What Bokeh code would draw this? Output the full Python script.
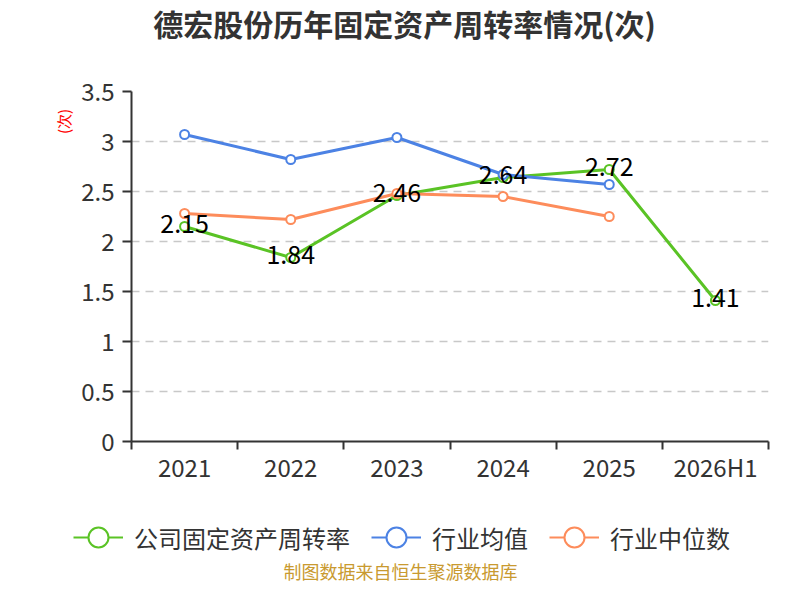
from bokeh.plotting import figure
from bokeh.layouts import column
from bokeh.models import (Range1d, FixedTicker, NumeralTickFormatter, Legend,
                          LegendItem, Label, ColumnDataSource)
from bokeh.core.properties import value
from bokeh.embed import file_html
from bokeh.resources import INLINE

years = ["2021", "2022", "2023", "2024", "2025", "2026H1"]
company = [2.15, 1.84, 2.46, 2.64, 2.72, 1.41]
industry_avg = [3.07, 2.82, 3.04, 2.67, 2.57]
industry_median = [2.28, 2.22, 2.48, 2.45, 2.25]
y_ticks = [0, 0.5, 1, 1.5, 2, 2.5, 3, 3.5]

FONT = "Noto Sans CJK SC"
green = "#5ac325"
blue = "#4c82e4"
orange = "#fd8c5b"

xs = [i + 0.5 for i in range(len(years))]


def blank_fig(h):
    f = figure(width=784, height=h, output_backend="svg", toolbar_location=None,
               x_range=Range1d(0, 1), y_range=Range1d(0, 1),
               x_axis_location=None, y_axis_location=None,
               min_border=0)
    f.outline_line_color = None
    f.xgrid.grid_line_color = None
    f.ygrid.grid_line_color = None
    return f


head = blank_fig(76)
foot = blank_fig(98)
shift = 131  # frame left, when the strips get aligned to the main chart
if "frame_align" in head.properties():
    head.frame_align = False
    foot.frame_align = False
    shift = 0

# title strip
head.add_layout(Label(x=404 - shift, y=54, x_units="screen", y_units="screen",
                      text="德宏股份历年固定资产周转率情况(次)",
                      text_align="center", text_baseline="middle",
                      text_font=FONT, text_font_size="30px",
                      text_font_style="bold", text_color="#333333"))

# main chart
p = figure(width=784, height=410, output_backend="svg", toolbar_location=None,
           x_range=Range1d(0, len(years)), y_range=Range1d(0, 3.5),
           min_border_left=131, min_border_right=16, min_border_top=15,
           min_border_bottom=45)
p.outline_line_color = None

p.xaxis.ticker = FixedTicker(ticks=xs, minor_ticks=list(range(len(years) + 1)))
p.xaxis.major_label_overrides = {x: y for x, y in zip(xs, years)}
p.xaxis.major_tick_out = 0
p.xaxis.major_tick_in = 0
p.xaxis.minor_tick_out = 8
p.xaxis.minor_tick_in = 0
p.xaxis.minor_tick_line_color = "#333333"
p.xaxis.minor_tick_line_width = 2
p.xaxis.axis_line_color = "#333333"
p.xaxis.axis_line_width = 2
p.xaxis.major_label_text_font = FONT
p.xaxis.major_label_text_font_size = "24px"
p.xaxis.major_label_text_color = "#333333"
p.xaxis.major_label_standoff = -1

p.yaxis.ticker = FixedTicker(ticks=y_ticks)
p.yaxis.formatter = NumeralTickFormatter(format="0.[0]")
p.yaxis.major_tick_out = 9
p.yaxis.major_tick_in = 0
p.yaxis.minor_tick_line_color = None
p.yaxis.major_tick_line_color = "#333333"
p.yaxis.major_tick_line_width = 2
p.yaxis.axis_line_color = "#333333"
p.yaxis.axis_line_width = 2
p.yaxis.major_label_text_font = FONT
p.yaxis.major_label_text_font_size = "24px"
p.yaxis.major_label_text_color = "#333333"
p.yaxis.major_label_standoff = 8

# unit label near the top of the axis; trailing ideographic spaces push it down
p.yaxis.axis_label = "(次)" + "\u3000" * 4
p.yaxis.axis_label_text_font = FONT
p.yaxis.axis_label_text_font_size = "15px"
p.yaxis.axis_label_text_font_style = "normal"
p.yaxis.axis_label_text_color = "red"
p.yaxis.axis_label_standoff = 4
if "axis_label_align" in p.yaxis[0].properties():
    p.yaxis.axis_label_align = "end"

p.xgrid.grid_line_color = None
p.ygrid.grid_line_color = "#c8c8c8"
p.ygrid.grid_line_dash = "8 6"
p.ygrid.grid_line_width = 1.5

series = [(company, green, "公司固定资产周转率"),
          (industry_avg, blue, "行业均值"),
          (industry_median, orange, "行业中位数")]
for vals, color, name in series:
    src = ColumnDataSource(dict(x=xs[:len(vals)], y=vals))
    p.line("x", "y", source=src, line_color=color, line_width=3)
    p.scatter("x", "y", source=src, size=9, marker="circle", fill_color="white",
              line_color=color, line_width=2)

lab_src = ColumnDataSource(dict(x=xs, y=company, t=[f"{v:.2f}" for v in company]))
p.text("x", "y", text="t", source=lab_src, text_align="center",
       text_baseline="middle", y_offset=-3, text_font=value(FONT),
       text_font_size="25px", text_color="black")

# legend and source strip
items = []
for vals, color, name in series:
    dummy = ColumnDataSource(dict(x=[float("nan")], y=[float("nan")]))
    lr = foot.line("x", "y", source=dummy, line_color=color, line_width=2)
    cr = foot.scatter("x", "y", source=dummy, marker="circle",
                      fill_color="white", line_color=color, line_width=2)
    items.append(LegendItem(label=name, renderers=[lr, cr]))

legend = Legend(items=items, orientation="horizontal", location=(73 - shift, 22),
                glyph_width=50, glyph_height=50, label_standoff=11, spacing=21,
                padding=0, margin=0, border_line_color=None,
                background_fill_alpha=0, label_text_font=FONT,
                label_text_font_size="24px", label_text_color="#333333")
foot.add_layout(legend, "center")

foot.add_layout(Label(x=400 - shift, y=14, x_units="screen", y_units="screen",
                      text="制图数据来自恒生聚源数据库", text_align="center",
                      text_baseline="middle", text_font=FONT,
                      text_font_size="18px", text_color="#c99a30"))

page = column(head, p, foot, spacing=0)
open("out.html", "w").write(file_html(page, INLINE))
